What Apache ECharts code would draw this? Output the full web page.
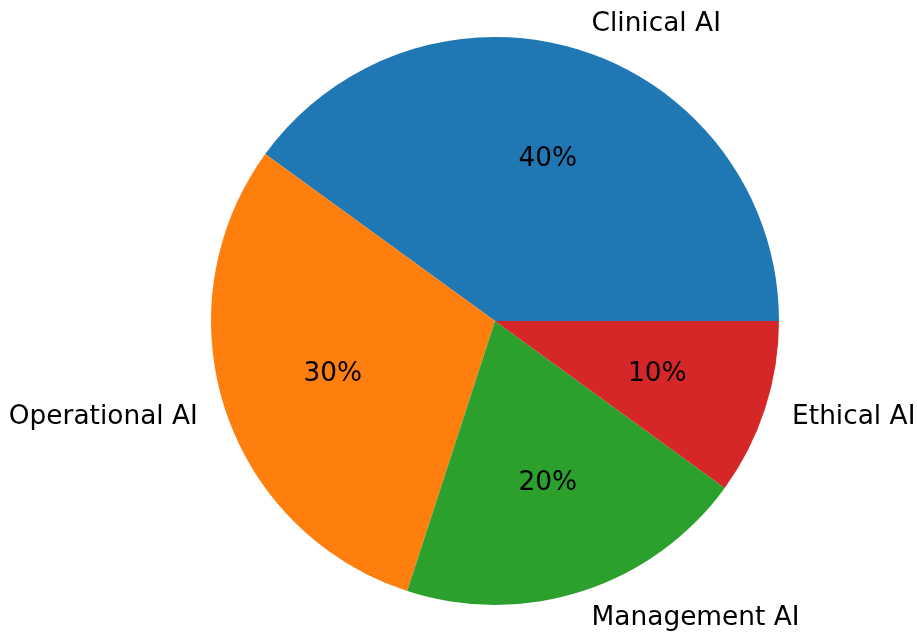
<!DOCTYPE html>
<html>
<head>
<meta charset="utf-8">
<script src="https://cdn.jsdelivr.net/npm/echarts@6/dist/echarts.min.js"></script>
<style>
html,body{margin:0;padding:0;background:#fff;}
#chart{width:917px;height:633px;}
</style>
</head>
<body>
<div id="chart"></div>
<script>
const categories = ['Clinical AI', 'Operational AI', 'Management AI', 'Ethical AI'];
const values = [40, 30, 20, 10];
const colors = ['#1f77b4', '#ff7f0e', '#2ca02c', '#d62728'];

const R = 284;
const center = [495, 321];
const font = 'DejaVu Sans';
const fontSize = 26.4;

const data = categories.map((c, i) => ({ name: c, value: values[i], itemStyle: { color: colors[i] } }));
const ghost = categories.map((c, i) => ({ name: c, value: values[i] }));

const chart = echarts.init(document.getElementById('chart'), null, { renderer: 'canvas' });
chart.setOption({
  animation: false,
  backgroundColor: '#ffffff',
  series: [
    {
      type: 'pie',
      center: center,
      radius: [0, R],
      startAngle: 0,
      clockwise: false,
      avoidLabelOverlap: false,
      bleedMargin: 0,
      silent: true,
      itemStyle: { borderWidth: 0 },
      label: {
        show: true,
        position: 'outside',
        formatter: '{b}',
        fontFamily: font,
        fontSize: fontSize,
        color: '#000',
        distanceToLabelLine: 0,
        overflow: 'none'
      },
      labelLine: { show: false, length: R * 0.1, length2: 0 },
      data: data
    },
    {
      type: 'pie',
      center: center,
      radius: [0, R * 1.18],
      startAngle: 0,
      clockwise: false,
      avoidLabelOverlap: false,
      silent: true,
      z: 3,
      itemStyle: { color: 'rgba(0,0,0,0)', borderWidth: 0 },
      label: {
        show: true,
        position: 'inside',
        formatter: p => Math.round(p.percent) + '%',
        fontFamily: font,
        fontSize: fontSize,
        color: '#000'
      },
      labelLine: { show: false },
      data: ghost
    }
  ]
});
</script>
</body>
</html>
